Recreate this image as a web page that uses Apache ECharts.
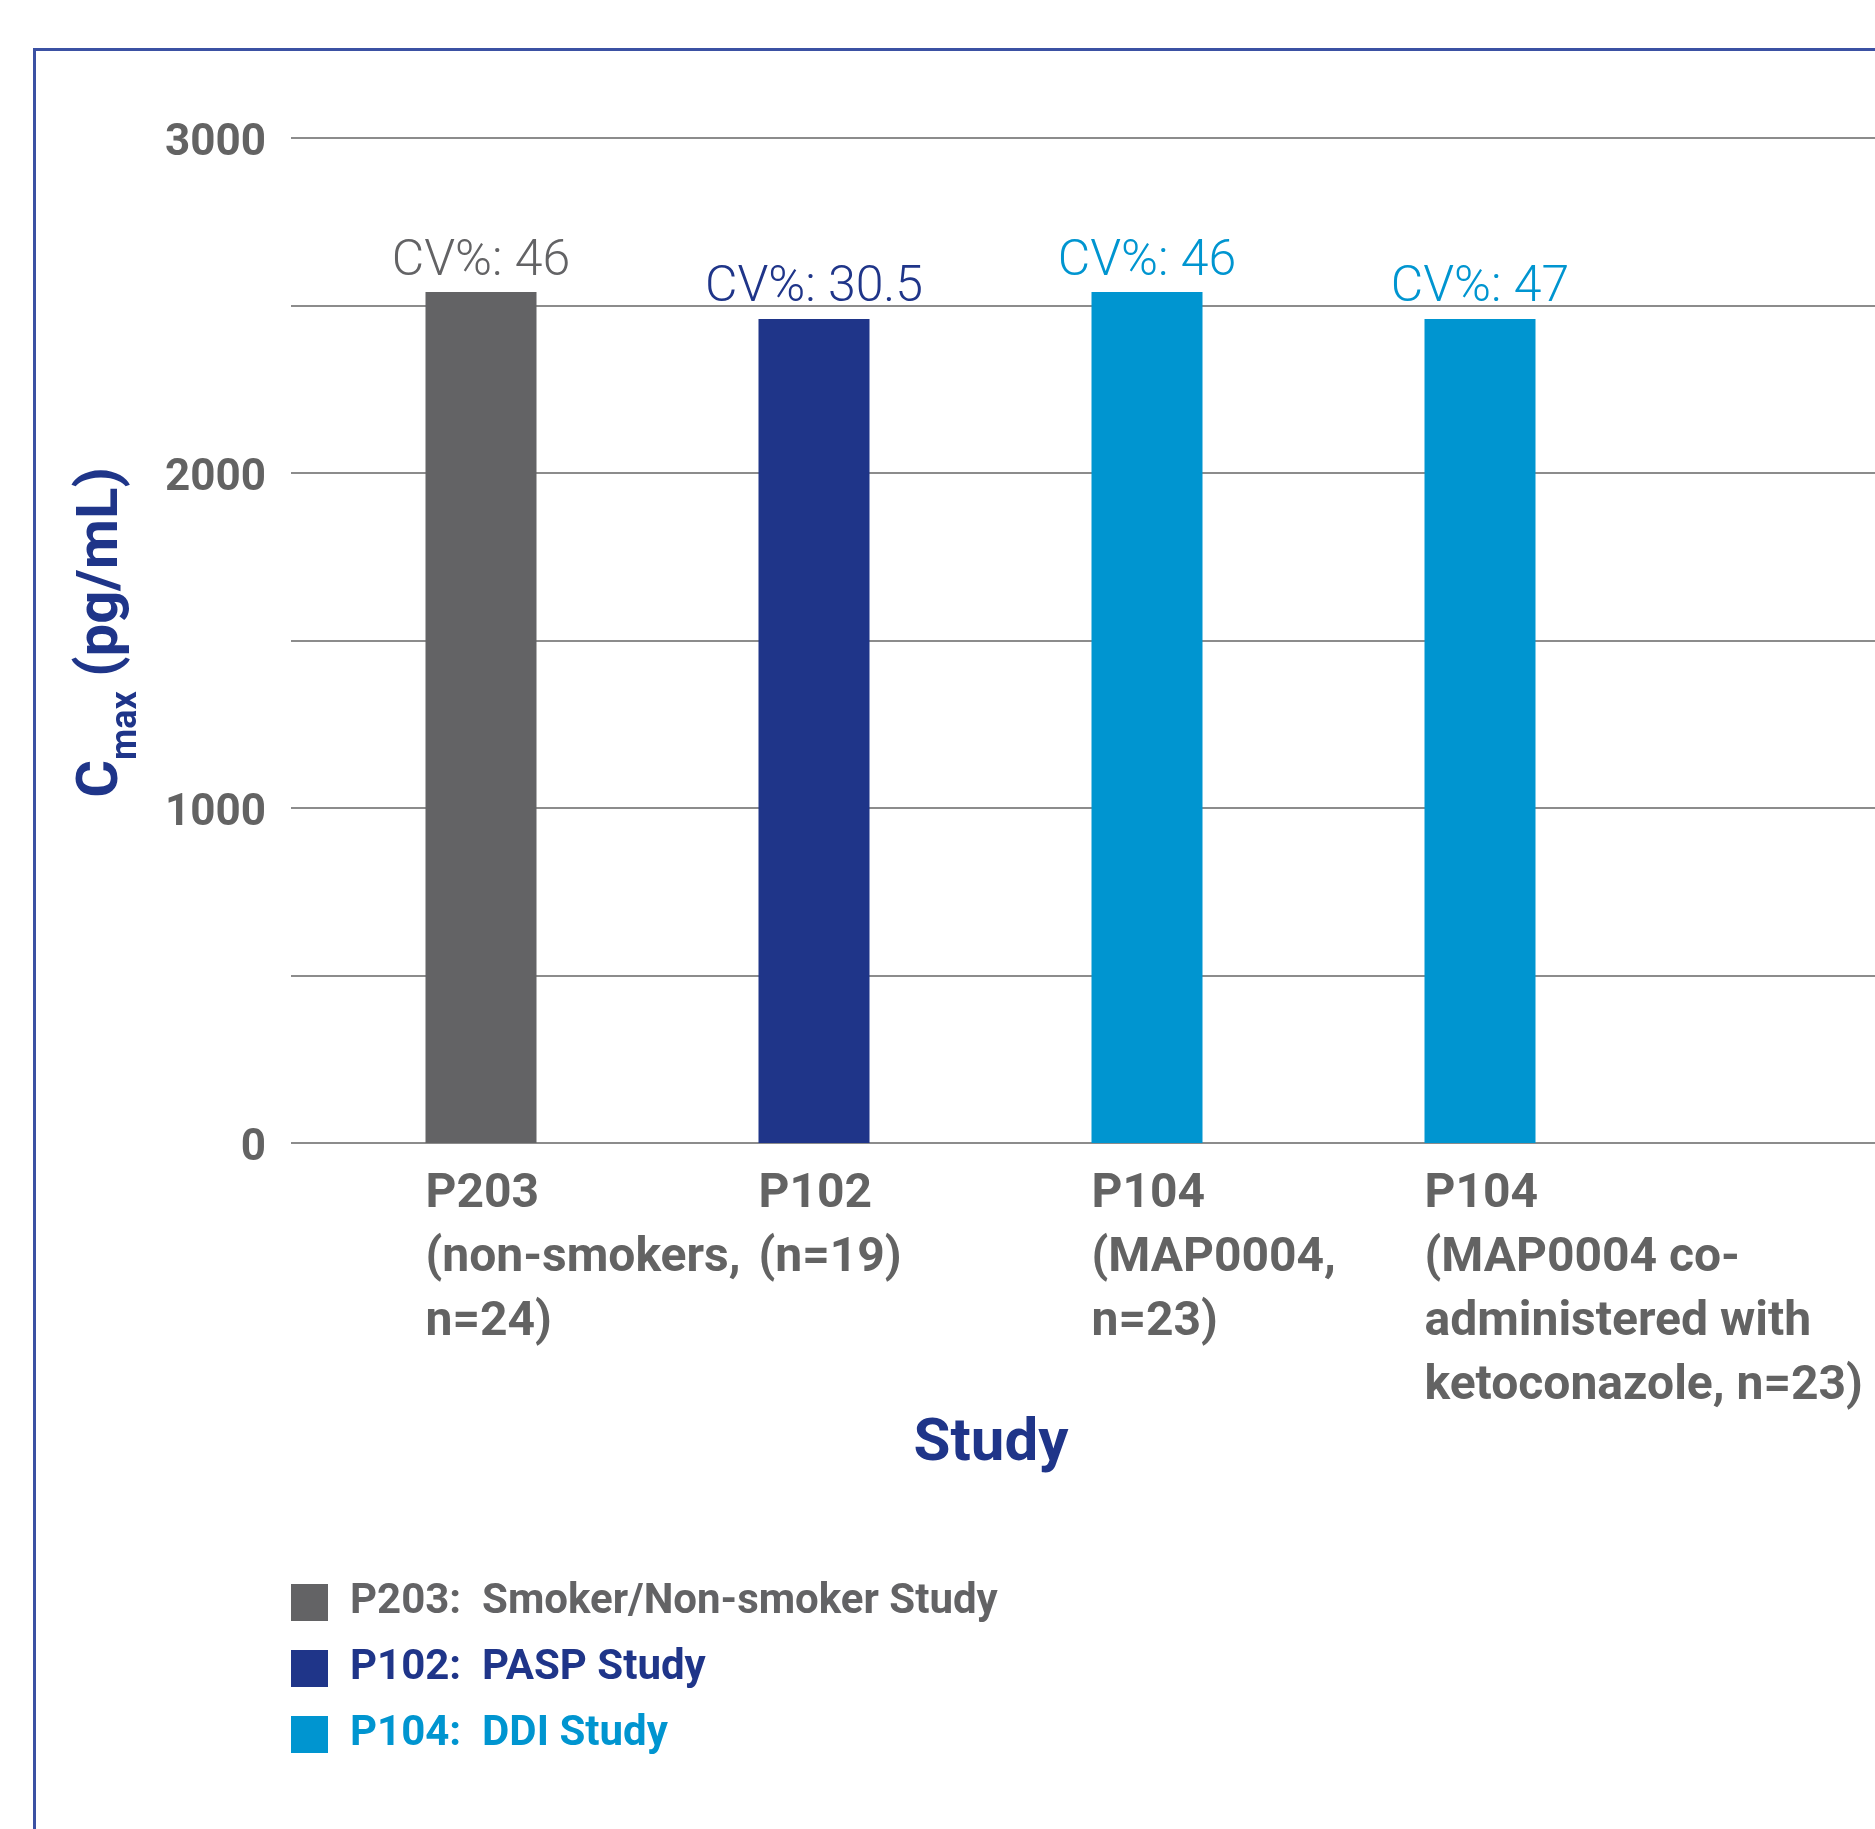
<!DOCTYPE html>
<html>
<head>
<meta charset="utf-8">
<script src="https://cdn.jsdelivr.net/npm/echarts@6/dist/echarts.min.js"></script>
<style>
  html, body { margin: 0; padding: 0; background: #ffffff; }
  #chart { width: 1875px; height: 1829px; }
</style>
</head>
<body>
<div id="chart"></div>
<script>
// Study categories shown under each bar
const categories = [
  'P203\n(non-smokers,\nn=24)',
  'P102\n(n=19)',
  'P104\n(MAP0004,\nn=23)',
  'P104\n(MAP0004 co-\nadministered with\nketoconazole, n=23)'
];
// Cmax (pg/mL) per study, split by study series
const p203Values = [2540, '-', '-', '-'];
const p102Values = ['-', 2460, '-', '-'];
const p104Values = ['-', '-', 2540, 2460];
// Coefficient of variation shown above each bar
const cvLabels = ['46', '30.5', '46', '47'];
// Legend / series names
const seriesNames = [
  'P203:  Smoker/Non-smoker Study',
  'P102:  PASP Study',
  'P104:  DDI Study'
];
const yTicks = [0, 1000, 2000, 3000];

const GRAY = '#636365';
const NAVY = '#1f3589';
const CYAN = '#0095d0';
const TICK_GRAY = '#636363';
const GRID_GRAY = '#8c8c8c';
const SANS = 'Roboto, "Open Sans", sans-serif';

const chart = echarts.init(document.getElementById('chart'), null, { renderer: 'canvas' });

function barSeries(name, data, color) {
  return {
    name: name,
    type: 'bar',
    xAxisIndex: 1,
    yAxisIndex: 1,
    stack: 'cmax',
    barWidth: 111,
    barGap: '-200%',
    data: data,
    itemStyle: { color: color },
    label: {
      show: true,
      position: 'top',
      distance: 5,
      color: color,
      fontFamily: SANS,
      fontWeight: 300,
      fontSize: 50,
      formatter: p => 'CV%: ' + cvLabels[p.dataIndex]
    },
    emphasis: { disabled: true },
    animation: false
  };
}

const option = {
  backgroundColor: '#ffffff',
  animation: false,
  title: {
    text: 'Study',
    left: 991,
    top: 1415,
    padding: 0,
    textAlign: 'center',
    textStyle: { fontFamily: SANS, fontWeight: 'bold', fontSize: 60, lineHeight: 60, color: NAVY }
  },
  legend: {
    orient: 'vertical',
    left: 291,
    top: 1578,
    padding: 0,
    icon: 'rect',
    itemWidth: 37,
    itemHeight: 37,
    itemGap: 17,
    selectedMode: false,
    textStyle: {
      fontFamily: SANS, fontWeight: 'bold', fontSize: 42, lineHeight: 49,
      padding: [0, 0, 0, 17]
    },
    data: [
      { name: seriesNames[0], textStyle: { color: GRAY } },
      { name: seriesNames[1], textStyle: { color: NAVY } },
      { name: seriesNames[2], textStyle: { color: CYAN } }
    ]
  },
  graphic: [{
    type: 'rect',
    left: 32, top: 47,
    shape: { x: 0, y: 0, width: 1900, height: 1900 },
    style: { fill: 'none', stroke: '#3b51a3', lineWidth: 3 },
    silent: true
  }],
  grid: [
    { left: 291, right: 0, top: 138, height: 1005 },
    { left: 259, width: 1332, top: 138, height: 1005 }
  ],
  xAxis: [
    { gridIndex: 0, type: 'value', show: false, min: 0, max: 1 },
    {
      gridIndex: 1,
      type: 'category',
      data: categories,
      axisLine: { show: false },
      axisTick: { show: false },
      axisLabel: {
        interval: 0,
        hideOverlap: false,
        align: 'left',
        verticalAlign: 'top',
        margin: 20,
        fontFamily: SANS,
        fontWeight: 'bold',
        fontSize: 48,
        lineHeight: 64,
        color: TICK_GRAY
      }
    }
  ],
  yAxis: [
    {
      gridIndex: 0,
      type: 'value',
      min: yTicks[0],
      max: yTicks[yTicks.length - 1],
      interval: 500,
      axisLine: { show: false },
      axisTick: { show: false },
      splitLine: { show: true, lineStyle: { color: GRID_GRAY, width: 2 } },
      axisLabel: {
        margin: 25,
        verticalAlign: 'top',
        lineHeight: 12,
        fontFamily: SANS,
        fontWeight: 'bold',
        fontSize: 44,
        color: TICK_GRAY,
        formatter: v => (yTicks.indexOf(v) >= 0 ? String(v) : '')
      },
      name: '{c|C}{s|max}{u| (pg/mL)}',
      nameLocation: 'middle',
      nameRotate: 90,
      nameGap: 160,
      nameTextStyle: {
        color: NAVY,
        padding: [0, 0, 0, 16],
        rich: {
          c: { fontFamily: SANS, fontWeight: 'bold', fontSize: 58, lineHeight: 58, color: NAVY },
          s: { fontFamily: SANS, fontWeight: 'bold', fontSize: 36, height: 8, verticalAlign: 'bottom', color: NAVY },
          u: { fontFamily: SANS, fontWeight: 'bold', fontSize: 58, lineHeight: 58, color: NAVY }
        }
      }
    },
    { gridIndex: 1, type: 'value', show: false, min: 0, max: 3000 }
  ],
  series: [
    barSeries(seriesNames[0], p203Values, GRAY),
    barSeries(seriesNames[1], p102Values, NAVY),
    barSeries(seriesNames[2], p104Values, CYAN),
    // empty companion series that shifts the bar so its left edge sits on the category tick
    {
      name: 'offset',
      type: 'bar',
      xAxisIndex: 1,
      yAxisIndex: 1,
      stack: 'offset',
      barWidth: 111,
      barGap: '-200%',
      data: ['-', '-', '-', '-'],
      silent: true,
      animation: false
    }
  ]
};

chart.setOption(option);
</script>
</body>
</html>
